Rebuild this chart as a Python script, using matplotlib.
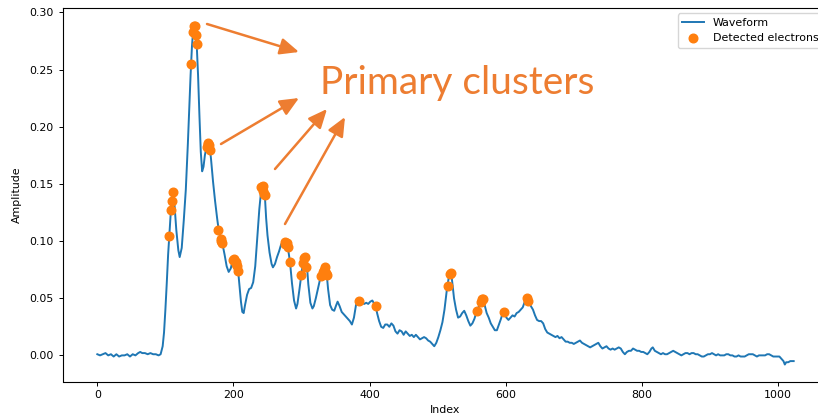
import matplotlib
matplotlib.use("Agg")
import matplotlib.pyplot as plt

# Sampled waveform (sample index, amplitude)
wave_index = [
    0, 4, 8, 12, 16, 20, 24, 28, 32, 36, 40, 44, 48, 52, 56, 60, 63, 66, 70, 74,
    78, 82, 86, 90, 93, 96, 98, 100, 102, 104, 106, 108, 110, 111, 113, 116, 119, 121, 124, 127,
    130, 133, 135, 137, 139, 141, 142, 144, 146, 148, 150, 152, 154, 156, 158, 161, 163, 165, 167, 170,
    173, 176, 178, 181, 184, 187, 190, 193, 196, 199, 201, 203, 205, 207, 209, 211, 213, 215, 217, 220,
    223, 226, 229, 232, 235, 238, 240, 242, 244, 246, 248, 250, 253, 256, 258, 261, 264, 267, 270, 273,
    276, 279, 281, 283, 286, 289, 292, 294, 297, 300, 302, 304, 306, 308, 310, 313, 316, 318, 321, 324,
    327, 330, 333, 335, 337, 339, 342, 345, 348, 351, 353, 356, 359, 362, 365, 368, 371, 374, 377, 380,
    383, 386, 389, 392, 395, 398, 401, 404, 407, 409, 411, 414, 417, 420, 423, 426, 429, 432, 435, 438,
    441, 444, 447, 450, 453, 456, 459, 462, 465, 468, 471, 474, 477, 480, 483, 486, 489, 492, 495, 498,
    501, 504, 507, 510, 512, 514, 516, 518, 520, 522, 524, 527, 530, 533, 536, 539, 542, 545, 548, 551,
    554, 557, 560, 563, 566, 569, 572, 575, 578, 581, 584, 587, 590, 593, 596, 598, 601, 604, 607, 610,
    613, 616, 619, 622, 625, 628, 631, 634, 637, 640, 643, 646, 649, 652, 655, 658, 661, 664, 667, 670,
    673, 676, 679, 682, 685, 688, 691, 694, 697, 700, 703, 706, 709, 712, 715, 718, 721, 724, 727, 730,
    733, 736, 739, 742, 745, 748, 751, 754, 757, 760, 763, 766, 769, 772, 775, 778, 781, 784, 787, 790,
    793, 796, 799, 802, 805, 808, 811, 814, 816, 819, 822, 825, 828, 831, 834, 837, 840, 843, 846, 849,
    852, 855, 858, 861, 864, 867, 870, 873, 876, 879, 882, 885, 888, 891, 894, 897, 900, 903, 906, 909,
    912, 915, 918, 921, 924, 927, 930, 933, 936, 939, 942, 945, 948, 951, 954, 957, 960, 963, 966, 969,
    972, 975, 978, 981, 984, 987, 990, 993, 996, 999, 1002, 1005, 1008, 1010, 1012, 1015, 1018, 1021, 1023,
]
wave_amplitude = [
    0.001, 0.000, 0.001, 0.002, 0.000, 0.001, -0.001, 0.001, -0.001, 0.000, 0.000, 0.001, -0.001, 0.001, 0.000, 0.002, 0.003, 0.002, 0.002, 0.001,
    0.002, 0.001, 0.001, 0.000, 0.001, 0.008, 0.020, 0.040, 0.063, 0.088, 0.107, 0.126, 0.138, 0.143, 0.135, 0.110, 0.092, 0.086, 0.094, 0.118,
    0.145, 0.185, 0.215, 0.245, 0.270, 0.286, 0.289, 0.284, 0.272, 0.245, 0.210, 0.178, 0.161, 0.165, 0.175, 0.184, 0.187, 0.183, 0.172, 0.152,
    0.135, 0.120, 0.111, 0.102, 0.097, 0.088, 0.078, 0.073, 0.076, 0.083, 0.085, 0.083, 0.079, 0.073, 0.060, 0.047, 0.038, 0.037, 0.044, 0.053,
    0.058, 0.059, 0.064, 0.078, 0.103, 0.128, 0.140, 0.148, 0.148, 0.141, 0.120, 0.105, 0.090, 0.080, 0.077, 0.080, 0.086, 0.091, 0.097, 0.099,
    0.100, 0.097, 0.090, 0.082, 0.063, 0.048, 0.041, 0.045, 0.058, 0.072, 0.080, 0.085, 0.086, 0.078, 0.062, 0.046, 0.041, 0.043, 0.050, 0.058,
    0.066, 0.071, 0.074, 0.077, 0.071, 0.058, 0.044, 0.040, 0.039, 0.044, 0.047, 0.043, 0.038, 0.036, 0.034, 0.032, 0.030, 0.027, 0.033, 0.044,
    0.048, 0.048, 0.046, 0.045, 0.046, 0.045, 0.047, 0.048, 0.045, 0.043, 0.037, 0.030, 0.025, 0.024, 0.027, 0.027, 0.025, 0.028, 0.026, 0.021,
    0.019, 0.022, 0.021, 0.018, 0.021, 0.019, 0.017, 0.018, 0.016, 0.018, 0.016, 0.014, 0.015, 0.016, 0.015, 0.013, 0.012, 0.010, 0.008, 0.011,
    0.016, 0.022, 0.029, 0.040, 0.050, 0.060, 0.067, 0.071, 0.071, 0.061, 0.050, 0.040, 0.033, 0.034, 0.037, 0.039, 0.035, 0.030, 0.026, 0.028,
    0.032, 0.038, 0.042, 0.047, 0.049, 0.044, 0.037, 0.033, 0.028, 0.025, 0.022, 0.022, 0.027, 0.032, 0.038, 0.037, 0.033, 0.031, 0.033, 0.035,
    0.034, 0.037, 0.038, 0.040, 0.042, 0.047, 0.050, 0.048, 0.043, 0.040, 0.035, 0.031, 0.030, 0.030, 0.028, 0.023, 0.020, 0.019, 0.018, 0.017,
    0.016, 0.017, 0.015, 0.016, 0.014, 0.012, 0.012, 0.011, 0.011, 0.010, 0.011, 0.012, 0.013, 0.011, 0.010, 0.009, 0.008, 0.007, 0.008, 0.009,
    0.010, 0.011, 0.008, 0.006, 0.007, 0.008, 0.006, 0.005, 0.006, 0.005, 0.006, 0.007, 0.006, 0.003, 0.001, 0.003, 0.004, 0.004, 0.006, 0.005,
    0.004, 0.004, 0.003, 0.003, 0.002, 0.001, 0.003, 0.006, 0.007, 0.004, 0.003, 0.002, 0.001, 0.002, 0.001, 0.001, 0.002, 0.003, 0.004, 0.003,
    0.002, 0.001, 0.000, 0.001, 0.002, 0.002, 0.001, 0.002, 0.002, 0.001, 0.001, 0.000, -0.001, -0.001, 0.000, 0.001, 0.001, 0.002, 0.001, 0.000,
    0.001, 0.000, 0.000, 0.000, 0.001, 0.001, 0.000, 0.000, -0.001, -0.001, 0.000, -0.001, -0.001, -0.001, 0.000, 0.001, 0.001, 0.001, 0.000, -0.001,
    0.000, 0.000, 0.000, 0.000, 0.001, 0.001, 0.000, -0.001, -0.001, -0.001, -0.001, -0.003, -0.005, -0.008, -0.006, -0.006, -0.005, -0.005, -0.005,
]

# Detected electron positions (sample index, amplitude)
electron_index = [
    106, 108, 109, 111,
    138, 141, 142, 143, 145, 146,
    161, 162, 163, 164, 165,
    178, 181, 182, 183,
    200, 201, 203, 204, 205, 207,
    241, 243, 244, 245, 246,
    275, 276, 278, 280, 283,
    299, 302, 304, 305, 307,
    329, 331, 333, 335, 336, 337,
    385, 409,
    515, 518, 519,
    558, 563, 565, 567,
    597,
    631, 633,
]
electron_amplitude = [
    0.104, 0.127, 0.135, 0.143,
    0.255, 0.283, 0.288, 0.288, 0.280, 0.272,
    0.182, 0.185, 0.186, 0.184, 0.180,
    0.110, 0.102, 0.100, 0.098,
    0.083, 0.084, 0.082, 0.080, 0.078, 0.074,
    0.147, 0.148, 0.144, 0.141, 0.140,
    0.097, 0.099, 0.098, 0.095, 0.082,
    0.070, 0.081, 0.085, 0.086, 0.077,
    0.069, 0.073, 0.075, 0.077, 0.072, 0.070,
    0.048, 0.043,
    0.061, 0.071, 0.072,
    0.039, 0.047, 0.049, 0.049,
    0.038,
    0.050, 0.048,
]

ANNOT_COLOR = "#ED7D31"
FS = 7.9

W, H = 818, 417
fig = plt.figure(figsize=(W / 100, H / 100), dpi=100)
ax = fig.add_axes([62.5 / W, 1 - 381.5 / H, (828.5 - 62.5) / W, (381.5 - 8.0) / H])

ax.plot(wave_index, wave_amplitude, color="#1f77b4", lw=1.4, label="Waveform")
ax.plot(electron_index, electron_amplitude, "o", color="#ff7f0e", ms=6.2,
        label="Detected electrons")

ax.set_xlabel("Index", fontsize=FS, labelpad=3.5)
ax.set_ylabel("Amplitude", fontsize=FS, labelpad=5)
ax.tick_params(labelsize=FS, length=3.2, width=0.7, pad=3.2)
for s in ax.spines.values():
    s.set_linewidth(0.8)
ax.legend(loc="upper right", fontsize=FS)


def px(x, y):
    return (x / W, 1 - y / H)


# Callout text and arrows
fig.text(*px(320, 94), "Primary clusters", color=ANNOT_COLOR, fontsize=28,
         family="Lato", ha="left", va="baseline")

arrows = [
    ((207, 24), (299, 52)),
    ((221, 144), (299, 98)),
    ((275, 169), (327, 109)),
    ((285, 224), (345, 117)),
]
for tail, head in arrows:
    ax.annotate("", xy=px(*head), xycoords="figure fraction",
                xytext=px(*tail), textcoords="figure fraction",
                arrowprops=dict(arrowstyle="-|>,head_length=0.95,head_width=0.42",
                                mutation_scale=12, color=ANNOT_COLOR, lw=1.8,
                                shrinkA=0, shrinkB=0),
                annotation_clip=False)

fig.savefig("out.png", dpi=100)
